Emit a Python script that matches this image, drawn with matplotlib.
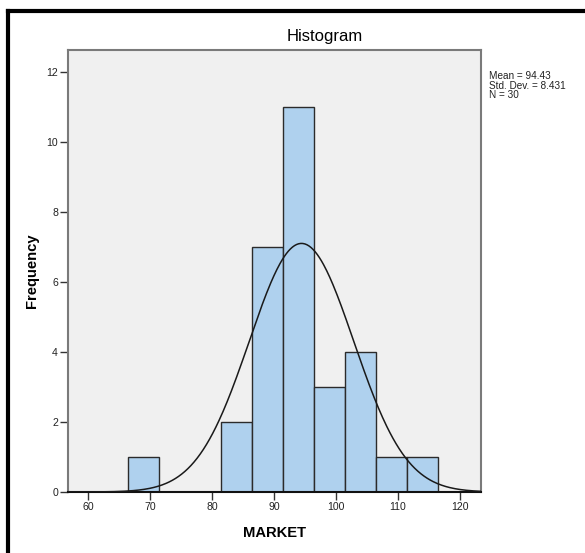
import numpy as np
import matplotlib
matplotlib.use("Agg")
import matplotlib.pyplot as plt
from matplotlib.lines import Line2D

plt.rcParams['font.family'] = ['Liberation Sans', 'DejaVu Sans']

# Data
bin_centers = [69, 84, 89, 94, 99, 104, 109, 114]
counts = [1, 2, 7, 11, 3, 4, 1, 1]
bin_width = 5
mean_val = 94.43
std_val = 8.431
n_val = 30
x_ticks = [60, 70, 80, 90, 100, 110, 120]
y_ticks = [0, 2, 4, 6, 8, 10, 12]

W, H = 585, 553
fig = plt.figure(figsize=(W / 100, H / 100), dpi=100)

def fx(px):
    return px / W

def fy(py):
    return 1 - py / H

ax = fig.add_axes([fx(67.7), fy(492), fx(481) - fx(67.7), fy(50) - fy(492)])
ax.set_facecolor('#f0f0f0')

ax.bar(bin_centers, counts, width=bin_width, color='#afd1ee',
       edgecolor='#2b2b2b', linewidth=1.0, zorder=2)

xs = np.linspace(56.7, 123.4, 400)
ys = n_val * bin_width / (std_val * np.sqrt(2 * np.pi)) * np.exp(-0.5 * ((xs - mean_val) / std_val) ** 2)
ax.plot(xs, ys, color='#1a1a1a', linewidth=1.1, zorder=3)

ax.set_xlim(56.7, 123.4)
ax.set_ylim(0, 12.62)
ax.set_xticks(x_ticks)
ax.set_yticks(y_ticks)
ax.tick_params(axis='both', direction='out', length=6, width=1.0, color='#333333',
               labelsize=7.6, pad=1, labelcolor='#222222')

for side in ['top', 'right', 'left']:
    ax.spines[side].set_color('#7a7a7a')
    ax.spines[side].set_linewidth(1.5)
ax.spines['bottom'].set_color('#111111')
ax.spines['bottom'].set_linewidth(1.5)

fig.text(fx(274.5), fy(533), 'MARKET', fontsize=10.6, fontweight='bold', ha='center', va='center')
fig.text(fx(32), fy(271), 'Frequency', fontsize=10.6, fontweight='bold', ha='center', va='center', rotation=90)

fig.text(fx(325), fy(36), 'Histogram', fontsize=12, ha='center', va='center')

fig.text(fx(489), fy(71), 'Mean = %.2f\nStd. Dev. = %.3f\nN = %d' % (mean_val, std_val, n_val),
         fontsize=7.2, ha='left', va='top', linespacing=0.95, color='#222222')

# Outer frame (top and left edges visible)
fig.add_artist(Line2D([fx(8), fx(8)], [fy(11), 0], color='black', linewidth=3, transform=fig.transFigure))
fig.add_artist(Line2D([fx(8), 1], [fy(11), fy(11)], color='black', linewidth=3, transform=fig.transFigure))

fig.savefig('out.png', dpi=100)
